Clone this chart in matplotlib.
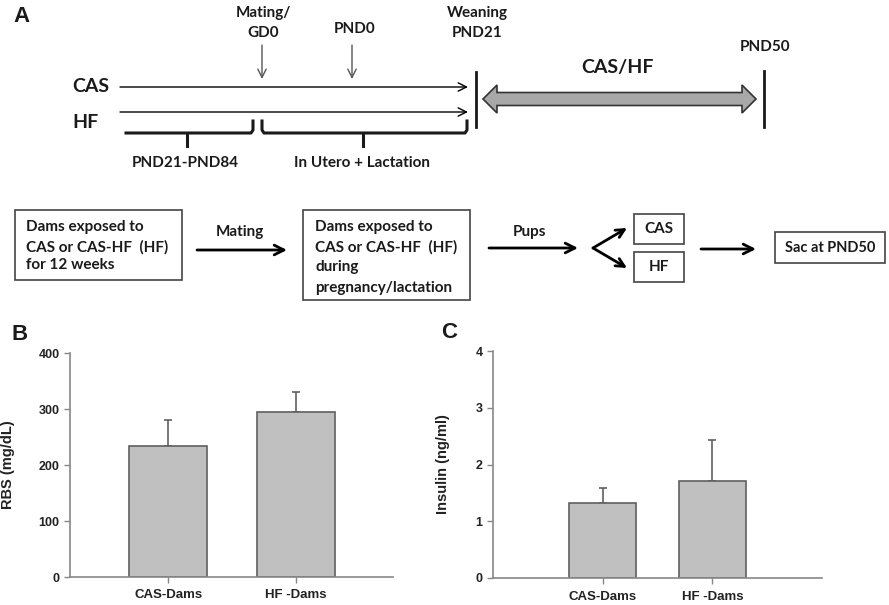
import matplotlib
matplotlib.use("Agg")
import matplotlib.pyplot as plt
import matplotlib.patches as mpatches

# bar chart data
groups = ["CAS-Dams", "HF -Dams"]
rbs_mean = [234, 295]
rbs_err = [46, 36]
insulin_mean = [1.32, 1.71]
insulin_err = [0.27, 0.73]

rbs_ticks = [0, 100, 200, 300, 400]
insulin_ticks = [0, 1, 2, 3, 4]

W, H = 889, 605
DIAG_FONT = "Lato"
BAR_FACE = "#c0c0c0"
EDGE = "#606060"

fig = plt.figure(figsize=(W / 100, H / 100), dpi=100)
fig.patch.set_facecolor("white")

# ---- panel A: schematic drawn in pixel coordinates ----
ax = fig.add_axes([0, 0, 1, 1])
ax.set_xlim(0, W)
ax.set_ylim(H, 0)
ax.axis("off")


def txt(x, y, s, size=11, ha="center", family=DIAG_FONT, weight="bold"):
    ax.text(x, y, s, ha=ha, va="center", fontsize=size, family=family,
            weight=weight, color="#1a1a1a")


def arrow(x0, y0, x1, y1, lw=1.0, color="black", head=0.4, hw=0.25):
    ax.annotate("", xy=(x1, y1), xytext=(x0, y0),
                arrowprops=dict(arrowstyle=f"->,head_length={head},head_width={hw}",
                                lw=lw, color=color, shrinkA=0, shrinkB=0))


txt(22, 17, "A", size=16, family="Liberation Sans")

# timeline labels
txt(263, 13, "Mating/")
txt(263, 33, "GD0")
txt(355, 29, "PND0")
txt(477, 13, "Weaning")
txt(477, 33, "PND21")
txt(765, 47, "PND50")
txt(617, 68, "CAS/HF", size=14)
txt(72, 86, "CAS", size=14, ha="left")
txt(72, 122, "HF", size=14, ha="left")

arrow(262, 45, 262, 79, lw=1.0, color="#555555", head=0.6, hw=0.3)
arrow(352, 45, 352, 79, lw=1.0, color="#555555", head=0.6, hw=0.3)
arrow(120, 87, 468, 87, lw=1.0, head=0.6, hw=0.3)
arrow(120, 112, 468, 112, lw=1.0, head=0.6, hw=0.3)

ax.plot([476, 476], [72, 127], color="#1a1a1a", lw=2)
ax.plot([764, 764], [71, 127], color="#1a1a1a", lw=2)

# grey double-headed arrow
x0, x1, yc = 483, 756, 99
sh, hh, hl = 6.5, 14, 14
poly = [(x0, yc), (x0 + hl, yc - hh), (x0 + hl, yc - sh), (x1 - hl, yc - sh),
        (x1 - hl, yc - hh), (x1, yc), (x1 - hl, yc + hh), (x1 - hl, yc + sh),
        (x0 + hl, yc + sh), (x0 + hl, yc + hh)]
ax.add_patch(mpatches.Polygon(poly, closed=True, facecolor="#a8a8a8",
                              edgecolor="#333333", lw=1.2))

# braces
ax.plot([126, 251, 253, 253], [133, 133, 130, 121], color="#1a1a1a", lw=2.2)
ax.plot([187, 187], [133, 146], color="#1a1a1a", lw=2.2)
ax.plot([262, 262, 264, 465, 467, 467], [121, 130, 133, 133, 130, 121],
        color="#1a1a1a", lw=2.2)
ax.plot([363, 363], [133, 146], color="#1a1a1a", lw=2.2)
txt(185, 163, "PND21-PND84")
txt(362, 163, "In Utero + Lactation")

# flow chart


def box(x0, y0, x1, y1):
    ax.add_patch(mpatches.Rectangle((x0, y0), x1 - x0, y1 - y0, fill=False,
                                    edgecolor="#444444", lw=1.2))


box(15, 210, 182, 280)
for y, s in zip([227, 247, 265], ["Dams exposed to", "CAS or CAS-HF  (HF)", "for 12 weeks"]):
    txt(26, y, s, ha="left")

box(303, 210, 470, 300)
for y, s in zip([227, 247, 267, 288],
                ["Dams exposed to", "CAS or CAS-HF  (HF)", "during", "pregnancy/lactation"]):
    txt(315, y, s, ha="left")

txt(240, 232, "Mating")
arrow(197, 250, 287, 250, lw=2, head=0.7, hw=0.35)
txt(530, 232, "Pups")
arrow(489, 248, 578, 248, lw=2, head=0.7, hw=0.35)
arrow(593, 248, 627, 228, lw=2, head=0.6, hw=0.3)
arrow(593, 248, 627, 268, lw=2, head=0.6, hw=0.3)

box(634, 214, 684, 244)
txt(659, 229, "CAS")
box(634, 252, 684, 282)
txt(659, 267, "HF")
arrow(701, 249, 756, 249, lw=2, head=0.7, hw=0.35)
box(775, 232, 885, 263)
txt(830, 248, "Sac at PND50", size=10.5)


# ---- panels B and C ----
def bar_panel(rect, means, errs, ticks, xlim, ylabel, lx):
    l, r, b, t = rect
    bax = fig.add_axes([l / W, 1 - b / H, (r - l) / W, (b - t) / H])
    xs = list(range(len(means)))
    bax.bar(xs, means, width=0.61, color=BAR_FACE, edgecolor=EDGE, lw=1.2, zorder=2)
    bax.errorbar(xs, means, yerr=[[0] * len(errs), errs], fmt="none",
                 ecolor=EDGE, elinewidth=1.2, capsize=3, capthick=1.2, zorder=1)
    bax.set_xlim(*xlim)
    bax.set_ylim(ticks[0], ticks[-1])
    bax.set_yticks(ticks)
    bax.set_xticks(xs)
    bax.set_xticklabels(groups)
    for s in ["top", "right"]:
        bax.spines[s].set_visible(False)
    for s in ["left", "bottom"]:
        bax.spines[s].set_color("#888888")
        bax.spines[s].set_linewidth(1.2)
    bax.tick_params(axis="both", colors="#888888", length=4, width=1.0,
                    labelsize=9, labelcolor="#222222")
    bax.tick_params(axis="x", pad=5, labelsize=9.5)
    for lab in bax.get_xticklabels() + bax.get_yticklabels():
        lab.set_family("Liberation Sans")
        lab.set_fontweight("bold")
    bax.set_ylabel(ylabel, fontsize=10.5, family="Liberation Sans",
                   weight="bold", color="#222222")
    bax.yaxis.set_label_coords((lx - l) / (r - l), 0.5)
    bax.patch.set_alpha(0)
    return bax


bar_panel((70, 393, 577, 353), rbs_mean, rbs_err, rbs_ticks, (-0.77, 1.76),
          "RBS (mg/dL)", 15)
bar_panel((493, 822, 578, 351), insulin_mean, insulin_err, insulin_ticks, (-1.0, 2.0),
          "Insulin (ng/ml)", 450)

txt(20, 335, "B", size=16, family="Liberation Sans")
txt(449, 333, "C", size=16, family="Liberation Sans")

fig.savefig("out.png", dpi=100, facecolor="white")
